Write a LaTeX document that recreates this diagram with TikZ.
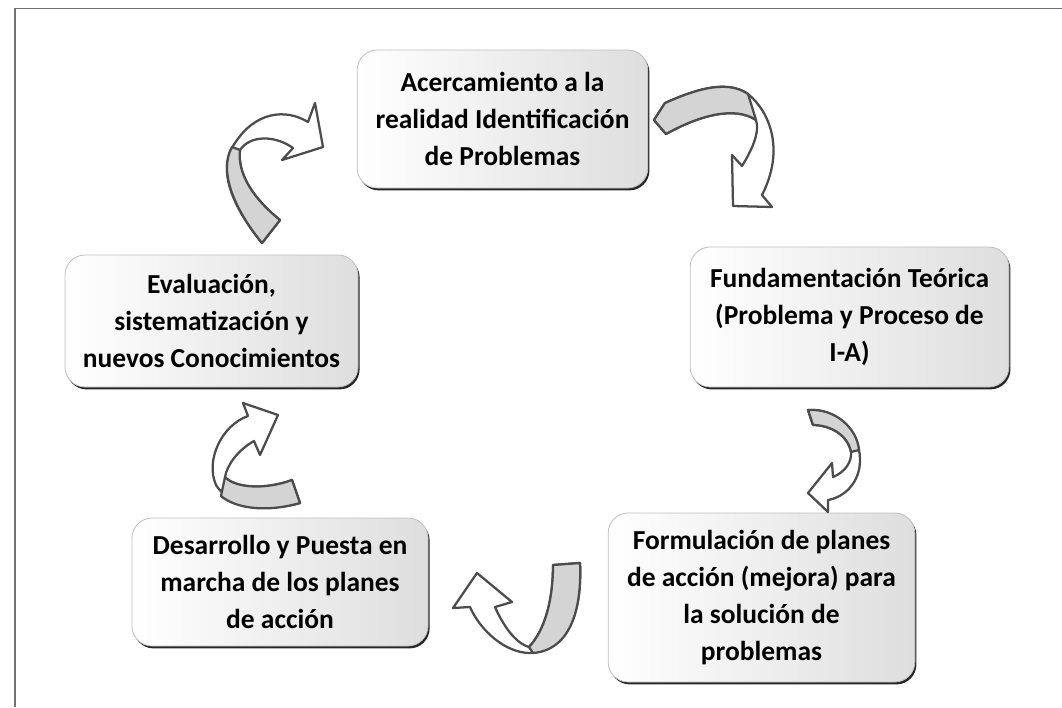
\documentclass[tikz,border=0pt]{standalone}
\usepackage{fontspec}
\setmainfont{Carlito}
\usetikzlibrary{shadows}

\tikzset{every picture/.style={line width=0.75pt}}
\tikzset{
  stepbox/.style={draw=black!25, line width=0.6pt, rounded corners=15pt,
    left color=white, right color=black!13,
    drop shadow={shadow xshift=1.2pt, shadow yshift=-1.8pt, fill=black!85, opacity=1},
    align=center, inner sep=0pt,
    font=\bfseries\fontsize{20.6}{27.75}\selectfont},
  ribbon/.style={draw=black!70, line width=1.7pt, line join=round, fill=white},
  ribbonback/.style={ribbon, fill=black!17},
}

\begin{document}
\begin{tikzpicture}[x=0.75pt,y=0.75pt,yscale=-1,xscale=1]
\useasboundingbox (0,0) rectangle (1062,707);

%Frame
\draw [color=black!55, line width=1pt] (1062,8.5) -- (15,8.5) -- (15,707) ;

% Text Node
\draw (502.5,119) node [stepbox, minimum width=218pt, minimum height=103.5pt] (acerca) {Acercamiento a la\\realidad Identificación\\de Problemas};
% Text Node
\draw (849.5,317) node [stepbox, minimum width=239pt, minimum height=105pt] (fundam) {Fundamentación Teórica\\(Problema y Proceso de\\I-A)};
% Text Node
\draw (761.5,597.5) node [stepbox, minimum width=230pt, minimum height=126.75pt] (formul) {Formulación de planes\\de acción (mejora) para\\la solución de\\problemas};
% Text Node
\draw (280,582) node [stepbox, minimum width=222pt, minimum height=96pt] (desarr) {Desarrollo y Puesta en\\marcha de los planes\\de acción};
% Text Node
\draw (211.5,321) node [stepbox, minimum width=219.75pt, minimum height=99pt] (evalua) {Evaluación,\\sistematización y\\nuevos Conocimientos};

%Shape: Curved Arrow (acerca -> fundam)
\draw [ribbon] (665,103) -- (654,120) -- (666,134) .. controls (700,115) and (735,106) .. (756,120) .. controls (760,132) and (752,150) .. (742,166) -- (732,155) -- (733,206) -- (772,207) -- (762,195) .. controls (785,150) and (770,112) .. (748,94) .. controls (725,78) and (690,92) .. (665,103) -- cycle ;
\draw [ribbonback] (665,103) -- (654,120) -- (666,134) .. controls (700,115) and (735,106) .. (756,120) -- (748,94) .. controls (725,78) and (690,92) .. (665,103) -- cycle ;
%Shape: Curved Arrow (fundam -> formul)
\draw [ribbon] (808,410) .. controls (835,408) and (860,430) .. (860,460) .. controls (860,482) and (845,497) .. (828,500) -- (828,512) -- (808,493) -- (832,463) -- (833,477) .. controls (845,472) and (852,462) .. (851,452) .. controls (848,435) and (830,425) .. (813,425) -- cycle ;
\draw [ribbonback] (808,410) .. controls (835,408) and (857,428) .. (859,450) -- (851,452) .. controls (848,435) and (830,425) .. (813,425) -- cycle ;
%Shape: Curved Arrow (formul -> desarr)
\draw [ribbon] (553,565) -- (580,563) .. controls (582,610) and (570,650) .. (530,653) .. controls (505,653) and (480,630) .. (470,607) -- (453,608) -- (477,573) -- (512,602) -- (495,607) .. controls (503,625) and (515,643) .. (529,647) .. controls (545,630) and (553,600) .. (553,565) -- cycle ;
\draw [ribbonback] (553,565) -- (580,563) .. controls (582,610) and (570,650) .. (533,653) -- (529,647) .. controls (545,630) and (553,600) .. (553,565) -- cycle ;
%Shape: Curved Arrow (desarr -> evalua)
\draw [ribbon] (292,480) -- (300,503) .. controls (265,513) and (228,505) .. (216,485) .. controls (205,460) and (222,425) .. (248,416) -- (243,403) -- (278,415) -- (260,455) -- (254,441) .. controls (238,450) and (227,465) .. (225,477) .. controls (235,488) and (265,490) .. (292,480) -- cycle ;
\draw [ribbonback] (292,480) -- (300,503) .. controls (265,513) and (235,508) .. (221,496) -- (225,477) .. controls (235,488) and (265,490) .. (292,480) -- cycle ;
%Shape: Curved Arrow (evalua -> acerca)
\draw [ribbon] (262,243) .. controls (235,210) and (215,170) .. (235,143) .. controls (255,112) and (285,108) .. (308,122) -- (315,103) -- (323,147) -- (282,160) -- (293,148) .. controls (275,135) and (250,135) .. (240,150) .. controls (237,175) and (255,200) .. (280,220) -- cycle ;
\draw [ribbonback] (262,243) .. controls (235,210) and (218,172) .. (232,147) -- (240,150) .. controls (237,175) and (255,200) .. (280,220) -- cycle ;

\end{tikzpicture}
\end{document}
